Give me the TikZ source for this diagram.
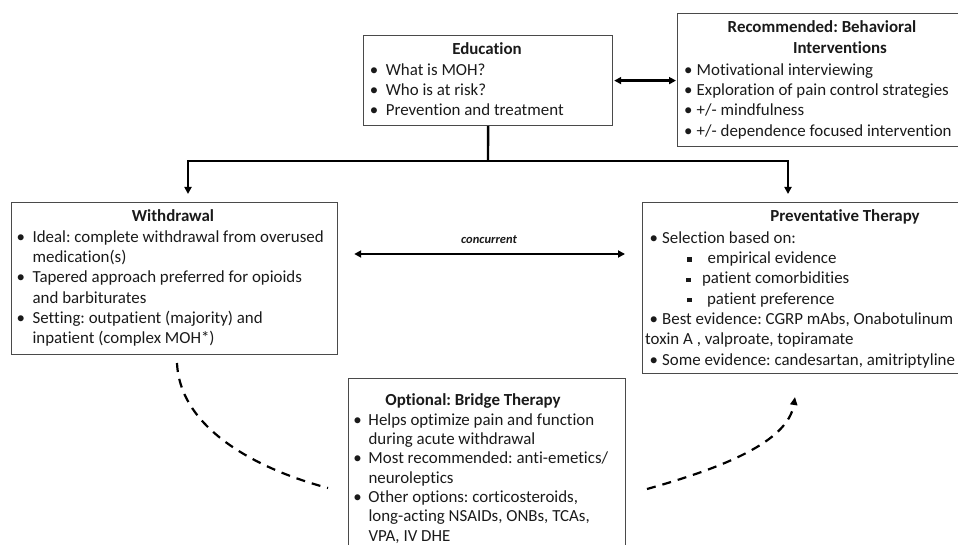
\documentclass[tikz,border=0pt]{standalone}
\usepackage{fontspec}
\setmainfont{Carlito}[Ligatures=NoCommon]
\usetikzlibrary{arrows.meta}
\definecolor{boxgray}{HTML}{4A4A4A}
\definecolor{ink}{HTML}{1A1A1A}
\newcommand\bi[1]{\makebox[#1][l]{\makebox[0pt][c]{•}}}
\newcommand\sqc{\makebox[0pt][c]{\rule[1.8pt]{4.5pt}{4.5pt}}}
\newcommand\fst{\vrule height 14pt width 0pt\relax}
\newcommand\mainfs{\fontsize{16.9pt}{20.3pt}\selectfont}
\newcommand\bridgefs{\fontsize{16.9pt}{19.3pt}\selectfont}
\frenchspacing
\begin{document}
\begin{tikzpicture}[x=1pt,y=-1pt,
  box/.style={draw=boxgray, line width=1.2pt, fill=none, inner sep=0pt, anchor=north west},
  body/.style={anchor=north west, inner sep=0pt, align=left, font=\mainfs, text=ink},
  ttl/.style={anchor=base, inner sep=0pt, font=\mainfs\bfseries, text=ink},
  conn/.style={line width=2.4pt, draw=black},
  dtip/.style={{Triangle[length=7pt,width=7pt]}-{Triangle[length=7pt,width=7pt]}},
  dashline/.style={line width=2.2pt, draw=black, dash pattern=on 9pt off 7pt}
]
\useasboundingbox (0,0) rectangle (958,545);
\clip (0,0) rectangle (958,545);

% boxes
\node[box, minimum width=249pt, minimum height=90pt]  (edu) at (363,35) {};
\node[box, minimum width=310pt, minimum height=133pt] (beh) at (677,13) {};
\node[box, minimum width=326pt, minimum height=152pt] (wd)  at (11,202) {};
\node[box, minimum width=340pt, minimum height=171pt] (prev) at (642,202) {};
\node[box, minimum width=277pt, minimum height=190pt] (brg) at (348,378) {};

% titles
\node[ttl] (eduT) at (487,55) {Education};
\node[ttl] (behT1) at (822,33) {Recommended: Behavioral};
\node[ttl] (behT2) at (840,54) {Interventions};
\node[ttl] (wdT) at (173,222) {Withdrawal};
\node[ttl] (prevT) at (845,222) {Preventative Therapy};
\node[ttl] (brgT) at (473,405) {Optional: Bridge Therapy};

% bodies
\node[body] (eduB) at (374,61) {\fst\bi{11.7pt}What is MOH?\\
\bi{11.7pt}Who is at risk?\\
\bi{11.7pt}Prevention and treatment};

\node[body] (behB) at (688,61) {\fst\bi{8.5pt}Motivational interviewing\\
\bi{8.5pt}Exploration of pain control strategies\\
\bi{8.5pt}+/- mindfulness\\
\bi{8.5pt}+/- dependence focused intervention};

\node[body] (wdB) at (20.7,228) {\fst\bi{11.7pt}Ideal: complete withdrawal from overused\\
\hspace*{11.7pt}medication(s)\\
\bi{11.7pt}Tapered approach preferred for opioids\\
\hspace*{11.7pt}and barbiturates\\
\bi{11.7pt}Setting: outpatient (majority) and\\
\hspace*{11.7pt}inpatient (complex MOH*)};

\node[body] (prevB) at (653.5,229) {\fst\bi{8.5pt}Selection based on:\\
\hspace*{36pt}\sqc\hspace{18pt}empirical evidence\\
\hspace*{35pt}\sqc\hspace{13.4pt}patient comorbidities\\
\hspace*{36pt}\sqc\hspace{17.4pt}patient preference\\
\bi{8.5pt}Best evidence: CGRP mAbs, Onabotulinum\\
\hspace*{-8.5pt}toxin A , valproate, topiramate\\
\bi{8.5pt}Some evidence: candesartan, amitriptyline};

\node[body, font=\bridgefs] (brgB) at (357.3,411) {\fst\bi{11pt}Helps optimize pain and function\\
\hspace*{11pt}during acute withdrawal\\
\bi{11pt}Most recommended: anti-emetics/\\
\hspace*{11pt}neuroleptics\\
\bi{11pt}Other options: corticosteroids,\\
\hspace*{11pt}long-acting NSAIDs, ONBs, TCAs,\\
\hspace*{11pt}VPA, IV DHE};

% connector coordinates
\coordinate (jn) at (488,161);
\coordinate (wdin) at (188,194);
\coordinate (prin) at (788,194);
\coordinate (cc) at (489,254);
\coordinate (d1s) at (177,363);
\coordinate (d1e) at (328,488);
\coordinate (d2s) at (647,489);
\coordinate (d2e) at (795,397);

% connectors
\draw[conn] (edu.south) -- (jn);
\draw[conn, dtip] (wdin) |- (jn) -| (prin);
\draw[conn, dtip, shorten <=1pt, shorten >=1pt] (edu.east) -- (edu.east -| beh.west);
\draw[conn, dtip, line width=2.2pt, shorten <=16pt, shorten >=17pt] (wd.east |- cc) -- (prev.west |- cc);
\node[anchor=base, inner sep=0pt, font=\fontsize{12.5pt}{15pt}\selectfont\bfseries\itshape, text=ink] (conc) at (489,244) {concurrent};

\draw[dashline] (d1s) .. controls (180,430) and (260,470) .. (d1e);
\draw[dashline, -{Triangle[length=8pt,width=7pt]}] (d2s) .. controls (722,468) and (788,442) .. (d2e);
\end{tikzpicture}
\end{document}
